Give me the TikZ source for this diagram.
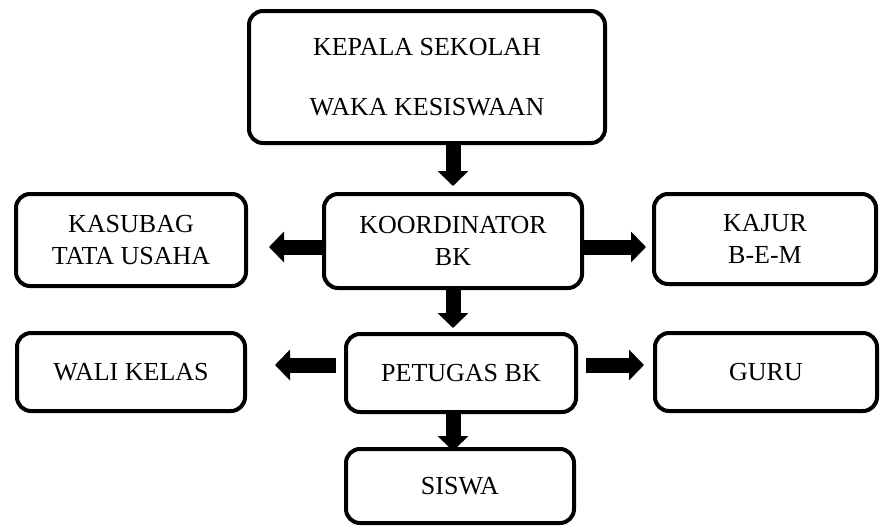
\documentclass[tikz,border=0pt]{standalone}
\usepackage{fontspec}
\setmainfont{Liberation Serif}
\usetikzlibrary{arrows.meta}
\begin{document}
\begin{tikzpicture}[x=0.5pt, y=-0.5pt,
    box/.style={draw, line width=2pt, rounded corners=7pt, inner sep=0pt, align=center,
                font=\fontsize{13}{16}\selectfont},
    bigarrow/.style={line width=7.5pt, -{Triangle[length=7.5pt,width=15pt]}}]
                    \useasboundingbox (0,0) rectangle (880,526);
                    % Top box
                    \node[box, minimum width=178pt, minimum height=66pt] (kepala) at (427,77)
                        {KEPALA SEKOLAH\\[14pt]WAKA KESISWAAN};
                    % Middle row
                    \node[box, minimum width=129pt, minimum height=47pt] (koord) at (453,241) {KOORDINATOR\\BK};
                    \node[box, minimum width=115pt, minimum height=46pt] (kasubag) at (131,240) {KASUBAG\\TATA USAHA};
                    \node[box, minimum width=111pt, minimum height=45pt] (kajur) at (765,239) {KAJUR\\B-E-M};
                    % Lower row
                    \node[box, minimum width=115pt, minimum height=39pt] (petugas) at (461,373) {PETUGAS BK};
                    \node[box, minimum width=114pt, minimum height=39pt] (wali) at (131,372) {WALI KELAS};
                    \node[box, minimum width=111pt, minimum height=39pt] (guru) at (766,372) {GURU};
                    % Bottom box
                    \node[box, minimum width=114pt, minimum height=37pt] (siswa) at (460,486) {SISWA};
                    % Arrows
                    \draw[bigarrow, shorten >=3pt] (kepala.south -| koord.north) -- (koord.north);
                    \draw[bigarrow, shorten >=10.5pt] ([yshift=-3pt]koord.west) -- ([yshift=-3pt]kasubag.east |- koord.west);
                    \draw[bigarrow, shorten >=3pt] ([yshift=-3pt]koord.east) -- ([yshift=-3pt]kajur.west |- koord.east);
                    \draw[bigarrow, shorten >=2pt] (koord.south) -- (koord.south |- petugas.north);
                    \draw[bigarrow, shorten <=4pt, shorten >=14pt] ([yshift=4pt]petugas.west) -- ([yshift=4pt]wali.east |- petugas.west);
                    \draw[bigarrow, shorten <=4pt, shorten >=4.5pt] ([yshift=4pt]petugas.east) -- ([yshift=4pt]guru.west |- petugas.east);
                    \draw[bigarrow, shorten >=-2pt] (petugas.south -| koord.south) -- (siswa.north -| koord.south);
                \end{tikzpicture}
\end{document}
